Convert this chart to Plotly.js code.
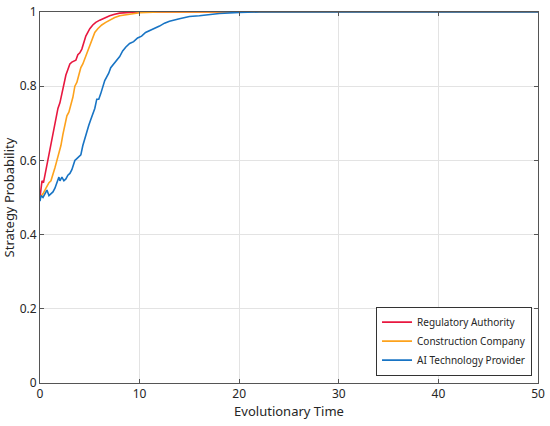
<!DOCTYPE html>
<html><head><meta charset="utf-8">
<script src="https://cdn.plot.ly/plotly-3.0.1.min.js"></script>
<style>html,body{margin:0;padding:0;background:#fff;}#chart{width:550px;height:426px;}</style>
</head><body><div id="chart"></div>
<script>
const seriesNames = ["Regulatory Authority", "Construction Company", "AI Technology Provider"];
const redT = [0,0.1,0.2,0.35,0.5,0.7,0.85,1.0,1.2,1.4,1.6,1.8,2.0,2.2,2.4,2.6,2.8,3.0,3.2,3.4,3.6,3.8,4.0,4.2,4.4,4.6,4.8,5.0,5.3,5.6,6.0,6.5,7.0,7.5,8.0,9.0,10,20,30,40,50];
const redY = [0.50,0.53,0.545,0.54,0.56,0.59,0.61,0.63,0.66,0.69,0.71,0.74,0.755,0.78,0.80,0.83,0.845,0.86,0.865,0.868,0.87,0.885,0.89,0.90,0.92,0.935,0.945,0.955,0.965,0.972,0.978,0.985,0.99,0.994,0.997,0.999,1.0,1.0,1.0,1.0,1.0];
const orangeT = [0,0.3,0.6,0.9,1.1,1.3,1.5,1.7,1.9,2.1,2.3,2.5,2.7,2.9,3.1,3.3,3.5,3.7,3.9,4.1,4.3,4.5,4.7,4.9,5.2,5.5,5.8,6.2,6.6,7.0,7.5,8.0,9.0,10,12,20,30,40,50];
const orangeY = [0.50,0.51,0.525,0.54,0.545,0.56,0.58,0.60,0.62,0.64,0.67,0.70,0.72,0.73,0.75,0.77,0.80,0.81,0.83,0.85,0.86,0.875,0.89,0.90,0.925,0.945,0.955,0.965,0.972,0.978,0.985,0.99,0.995,0.998,1.0,1.0,1.0,1.0,1.0];
const blueT = [0,0.1,0.3,0.5,0.7,0.9,1.1,1.3,1.5,1.7,1.9,2.0,2.2,2.4,2.6,2.8,3.0,3.2,3.4,3.5,3.7,3.9,4.1,4.3,4.5,4.7,4.9,5.1,5.3,5.5,5.7,5.9,6.1,6.3,6.5,6.7,6.9,7.1,7.4,7.7,8.0,8.3,8.6,9.0,9.4,9.8,10.2,10.6,11.0,11.5,12.0,12.5,13.0,14.0,15.0,16.0,17.0,18.0,20.0,22,30,40,50];
const blueY = [0.49,0.505,0.50,0.51,0.52,0.505,0.51,0.515,0.525,0.54,0.555,0.545,0.555,0.545,0.55,0.56,0.565,0.575,0.59,0.60,0.605,0.61,0.615,0.64,0.66,0.68,0.695,0.71,0.725,0.74,0.765,0.765,0.78,0.80,0.815,0.825,0.835,0.85,0.86,0.87,0.88,0.895,0.905,0.915,0.92,0.93,0.935,0.945,0.95,0.955,0.962,0.97,0.975,0.982,0.988,0.99,0.993,0.996,0.999,1.0,1.0,1.0,1.0];
const xTicks = [0,10,20,30,40,50];
const yTicks = [0,0.2,0.4,0.6,0.8,1];
const yTickText = ["0","0.2","0.4","0.6","0.8","1"];

const font = "Noto Sans, Open Sans, sans-serif";
const traces = [
  {x: redT, y: redY, name: seriesNames[0], mode: "lines", line: {color: "#e8173f", width: 1.6}},
  {x: orangeT, y: orangeY, name: seriesNames[1], mode: "lines", line: {color: "#fda21c", width: 1.6}},
  {x: blueT, y: blueY, name: seriesNames[2], mode: "lines", line: {color: "#1874c4", width: 1.6}}
];
const axisCommon = {
  showline: true, mirror: "ticks", linecolor: "#555", linewidth: 1,
  ticks: "inside", ticklen: 4, tickcolor: "#555",
  showgrid: true, gridcolor: "#e3e3e3", gridwidth: 1, zeroline: false,
  tickfont: {family: font, size: 12, color: "#262626"}
};
const layout = {
  width: 550, height: 426,
  margin: {l: 40, r: 12, t: 12, b: 43},
  paper_bgcolor: "#fff", plot_bgcolor: "#fff",
  showlegend: true,
  xaxis: Object.assign({}, axisCommon, {range: [0, 50], tickvals: xTicks, ticktext: xTicks.map(String),
    title: {text: "Evolutionary Time", font: {family: font, size: 13, color: "#262626"}, standoff: 4}}),
  yaxis: Object.assign({}, axisCommon, {range: [0, 1], tickvals: yTicks, ticktext: yTickText,
    title: {text: "Strategy Probability", font: {family: font, size: 13, color: "#262626"}, standoff: 4}}),
  legend: {x: 0.988, y: 0.02, xanchor: "right", yanchor: "bottom", bgcolor: "#fff",
    bordercolor: "#333", borderwidth: 1, font: {family: font, size: 10, color: "#262626"},
    tracegroupgap: 0, itemwidth: 30}
};
Plotly.newPlot("chart", traces, layout, {displayModeBar: false, staticPlot: true});
</script></body></html>
